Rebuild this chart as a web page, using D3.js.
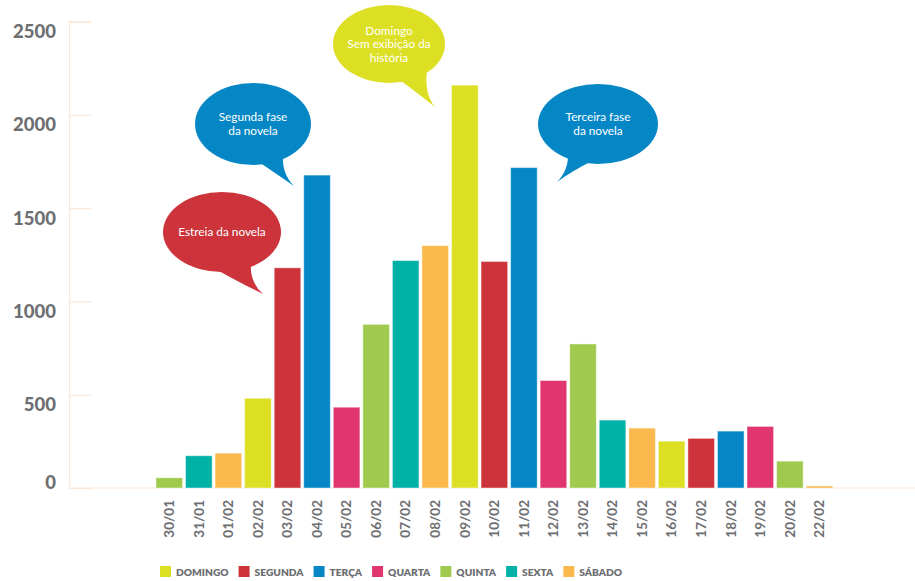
<!DOCTYPE html>
<html>
<head>
<meta charset="utf-8">
<script src="https://cdn.jsdelivr.net/npm/d3@7"></script>
<style>
  html, body { margin: 0; padding: 0; background: #fff; }
  svg { display: block; font-family: Lato, "Open Sans", sans-serif; }
</style>
</head>
<body>
<svg id="chart" width="915" height="581"></svg>
<script>
// Daily counts, 30/01 to 22/02
const dates = ["30/01","31/01","01/02","02/02","03/02","04/02","05/02","06/02","07/02","08/02","09/02","10/02",
               "11/02","12/02","13/02","14/02","15/02","16/02","17/02","18/02","19/02","20/02","22/02"];
const weekdays = ["quinta","sexta","sabado","domingo","segunda","terca","quarta","quinta","sexta","sabado","domingo","segunda",
                  "terca","quarta","quinta","sexta","sabado","domingo","segunda","terca","quarta","quinta","sabado"];
const values = [55, 173, 187, 481, 1180, 1677, 433, 877, 1219, 1299, 2159, 1214,
                1717, 576, 772, 364, 321, 251, 266, 305, 330, 144, 11];

const yTicks = [0, 500, 1000, 1500, 2000, 2500];

const dayKeys = ["domingo","segunda","terca","quarta","quinta","sexta","sabado"];
const dayLabels = ["DOMINGO","SEGUNDA","TERÇA","QUARTA","QUINTA","SEXTA","SÁBADO"];
const dayColors = ["#dcdf24","#cc333b","#0587c6","#e0356e","#9fca4e","#00b1a8","#fbb94d"];

// Speech-bubble notes attached to bars
const notes = [
  { date: "03/02", day: "segunda", lines: ["Estreia da novela"] },
  { date: "04/02", day: "terca",   lines: ["Segunda fase", "da novela"] },
  { date: "09/02", day: "domingo", lines: ["Domingo", "Sem exibição da", "história"] },
  { date: "11/02", day: "terca",   lines: ["Terceira fase", "da novela"] }
];

const svg = d3.select("#chart");
const color = d3.scaleOrdinal().domain(dayKeys).range(dayColors);

const x = d3.scaleBand().domain(dates).range([154.5, 834.2]).paddingInner(0.1).paddingOuter(0.05);
const y = d3.scaleLinear().domain([0, 2500]).range([488, 21.5]);

const axisColor = "#fde6d3";
const labelGray = "#6d6e71";

// Y axis: thin vertical line with short ticks
const yAxis = d3.axisRight(y).tickValues(yTicks).tickSize(22).tickFormat("");
const gy = svg.append("g").attr("transform", "translate(69,0)").call(yAxis);
gy.select(".domain").attr("stroke", axisColor).attr("stroke-width", 1.2);
gy.selectAll(".tick line").attr("stroke", axisColor).attr("stroke-width", 1.2);

// Y labels sit slightly below their tick
svg.append("g").selectAll("text").data(yTicks).join("text")
  .attr("x", 56)
  .attr("y", d => Math.min(y(d) + 10, 483))
  .attr("dy", "0.35em")
  .attr("text-anchor", "end")
  .attr("fill", labelGray)
  .attr("font-size", 18.5)
  .attr("font-weight", 900)
  .text(d => d);

// Baseline
svg.append("line")
  .attr("x1", 69).attr("x2", 915)
  .attr("y1", y(0)).attr("y2", y(0))
  .attr("stroke", axisColor).attr("stroke-width", 1.2);

// Bars
svg.append("g").selectAll("rect").data(dates).join("rect")
  .attr("x", d => x(d))
  .attr("width", x.bandwidth())
  .attr("y", (d, i) => y(values[i]))
  .attr("height", (d, i) => y(0) - y(values[i]))
  .attr("fill", (d, i) => color(weekdays[i]))
  .attr("stroke", "#ffffff")
  .attr("stroke-opacity", 0.45)
  .attr("stroke-width", 1);

// X axis labels, rotated
const xAxis = d3.axisBottom(x).tickSize(0).tickPadding(0);
const gx = svg.append("g").attr("transform", "translate(0,500)").call(xAxis);
gx.select(".domain").remove();
gx.selectAll("text")
  .attr("transform", "rotate(-90)")
  .attr("x", 0).attr("y", 0).attr("dy", "0.35em")
  .attr("text-anchor", "end")
  .attr("fill", labelGray)
  .attr("font-size", 13.5)
  .attr("font-weight", 700)
  .attr("font-family", "Lato, sans-serif");

// Bubbles: ellipse body + curved tail pointing to the bar
const bubbleShapes = {
  "03/02": { cx: 222, cy: 232, rx: 59, ry: 40, tail: "M 210,266 Q 240,283 263,294 Q 249,282 251,261 Z" },
  "04/02": { cx: 253, cy: 124, rx: 58, ry: 41, tail: "M 256,160 Q 278,175 294,186 Q 282,174 283,156 Z" },
  "09/02": { cx: 389, cy: 44,  rx: 56, ry: 39, tail: "M 397,78 Q 419,94 435,107 Q 424,94 427,70 Z" },
  "11/02": { cx: 598, cy: 124, rx: 60, ry: 40, tail: "M 592,161 Q 572,171 557,182 Q 569,170 568,152 Z" }
};

const gb = svg.append("g");
notes.forEach(n => {
  const s = bubbleShapes[n.date];
  const c = color(n.day);
  gb.append("ellipse").attr("cx", s.cx).attr("cy", s.cy).attr("rx", s.rx).attr("ry", s.ry).attr("fill", c);
  gb.append("path").attr("d", s.tail).attr("fill", c);
  const lh = 13.5;
  const t = gb.append("text")
    .attr("text-anchor", "middle")
    .attr("fill", "#ffffff")
    .attr("font-size", 11.8)
    .attr("font-weight", 400);
  n.lines.forEach((ln, k) => {
    t.append("tspan")
      .attr("x", s.cx)
      .attr("y", s.cy - (n.lines.length - 1) * lh / 2 + k * lh)
      .attr("dy", "0.35em")
      .text(ln);
  });
});

// Legend
const lg = svg.append("g");
let lx = 160;
dayKeys.forEach((k, i) => {
  lg.append("rect").attr("x", lx).attr("y", 566).attr("width", 11).attr("height", 11).attr("fill", dayColors[i]);
  const t = lg.append("text")
    .attr("x", lx + 16).attr("y", 572.5).attr("dy", "0.35em")
    .attr("fill", labelGray)
    .attr("font-size", 10.2)
    .attr("font-weight", 800)
    .text(dayLabels[i]);
  lx = lx + 16 + t.node().getComputedTextLength() + 10;
});
</script>
</body>
</html>
